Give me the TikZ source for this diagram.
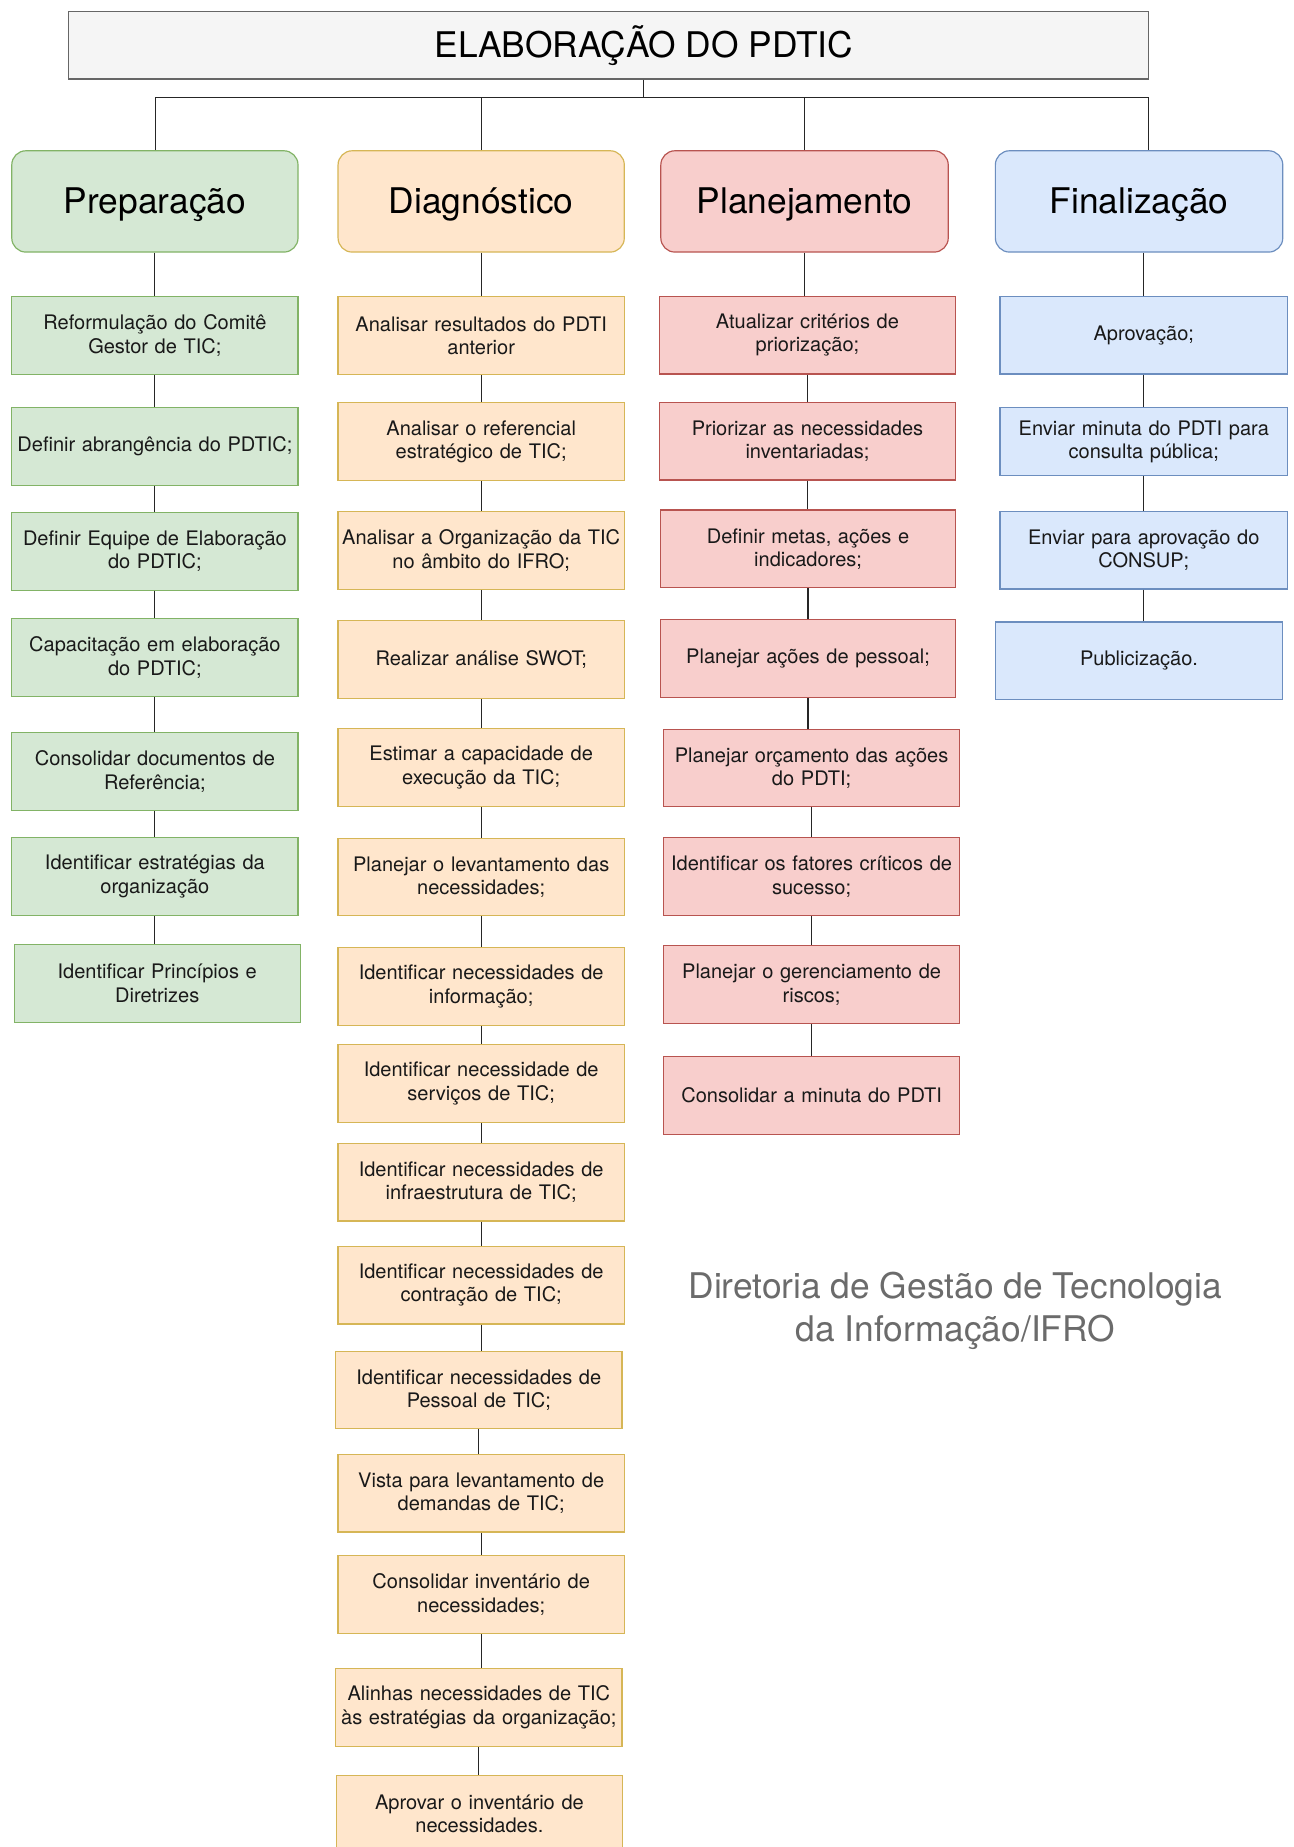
\documentclass[tikz,border=0pt]{standalone}
\usepackage{fontspec}
\setmainfont{TeX Gyre Heros}
\usepackage{xcolor}
\usetikzlibrary{calc}

\definecolor{verdeF}{HTML}{D5E8D4}
\definecolor{verdeB}{HTML}{82B366}
\definecolor{laranjaF}{HTML}{FFE6CC}
\definecolor{laranjaB}{HTML}{D6B656}
\definecolor{vermelhoF}{HTML}{F8CECC}
\definecolor{vermelhoB}{HTML}{B85450}
\definecolor{azulF}{HTML}{DAE8FC}
\definecolor{azulB}{HTML}{6C8EBF}
\definecolor{cinzaF}{HTML}{F5F5F5}
\definecolor{cinzaB}{HTML}{666666}
\definecolor{rodape}{HTML}{6B6B6B}

\begin{document}
\begin{tikzpicture}
[x = 1pt, y = -1pt,
 caixa/.style = {draw, line width = 1pt, text width = 235pt, inner xsep = 4pt,
   minimum height = 66pt, align = center, text = black!90,
   font = \fontsize{17}{20}\selectfont},
 prep/.style = {caixa, fill = verdeF, draw = verdeB},
 diag/.style = {caixa, fill = laranjaF, draw = laranjaB},
 plan/.style = {caixa, fill = vermelhoF, draw = vermelhoB, text width = 243pt},
 fin/.style = {caixa, fill = azulF, draw = azulB, text width = 236pt},
 fase/.style = {draw, line width = 1pt, rounded corners = 12pt,
   minimum width = 243pt, minimum height = 86pt,
   text height = 22pt, text depth = 1pt,
   font = \fontsize{30}{36}\selectfont},
 ligacao/.style = {line width = 1pt, draw = black!85}]

\useasboundingbox (0,0) rectangle (1098,1568);
\clip (0,0) rectangle (1098,1568);
\fill[white] (0,0) rectangle (1098,1568);

% titulo
\node (T)
[draw = cinzaB, fill = cinzaF, line width = 1pt,
 minimum width = 917pt, minimum height = 57pt, inner sep = 0pt]
at (516.5,38.5) {};
\node (Tt) [font = \fontsize{30}{36}\selectfont] at (546.5,38.5) {ELABORAÇÃO DO PDTIC};

% fases
\node (HP) [fase, fill = verdeF, draw = verdeB] at (131.5,171) {Preparação};
\node (HD) [fase, fill = laranjaF, draw = laranjaB] at (408.5,171) {Diagnóstico};
\node (HL) [fase, fill = vermelhoF, draw = vermelhoB, minimum width = 244pt] at (683,171) {Planejamento};
\node (HF) [fase, fill = azulF, draw = azulB, minimum width = 244pt] at (967,171) {Finalização};

\coordinate (stem) at (546,83);
\coordinate (busL) at (132,83);
\coordinate (busR) at (975,83);

\draw[ligacao] (T.south -| stem) -- (stem);
\draw[ligacao] (HP.north -| busL) -- (busL) -- (busR) -- (HF.north -| busR);
\draw[ligacao] (HD.north) -- (HD.north |- busL);
\draw[ligacao] (HL.north) -- (HL.north |- busL);

% preparacao
\node (P1) [prep] at (131.5,285) {Reformulação do Comitê\\Gestor de TIC;};
\node (P2) [prep] at (131.5,379) {Definir abrangência do PDTIC;};
\node (P3) [prep] at (131.5,468) {Definir Equipe de Elaboração\\do PDTIC;};
\node (P4) [prep] at (131.5,558) {Capacitação em elaboração\\do PDTIC;};
\node (P5) [prep] at (131.5,655) {Consolidar documentos de\\Referência;};
\node (P6) [prep] at (131.5,744) {Identificar estratégias da\\organização};
\node (P7) [prep] at (133.5,835) {Identificar Princípios e\\Diretrizes};

% diagnostico
\node (D1) [diag] at (408.5,285) {Analisar resultados do PDTI\\anterior};
\node (D2) [diag] at (408.5,375) {Analisar o referencial\\estratégico de TIC;};
\node (D3) [diag, text width = 241pt, inner xsep = 1pt] at (408.5,467.5) {Analisar a Organização da TIC\\no âmbito do IFRO;};
\node (D4) [diag] at (408.5,560) {Realizar análise SWOT;};
\node (D5) [diag] at (408.5,651.5) {Estimar a capacidade de\\execução da TIC;};
\node (D6) [diag] at (408.5,744.5) {Planejar o levantamento das\\necessidades;};
\node (D7) [diag] at (408.5,837.5) {Identificar necessidades de\\informação;};
\node (D8) [diag] at (408.5,920) {Identificar necessidade de\\serviços de TIC;};
\node (D9) [diag] at (408.5,1003.5) {Identificar necessidades de\\infraestrutura de TIC;};
\node (D10) [diag] at (408.5,1091) {Identificar necessidades de\\contração de TIC;};
\node (D11) [diag] at (406.5,1180) {Identificar necessidades de\\Pessoal de TIC;};
\node (D12) [diag] at (408.5,1267.5) {Vista para levantamento de\\demandas de TIC;};
\node (D13) [diag] at (408.5,1353.5) {Consolidar inventário de\\necessidades;};
\node (D14) [diag, text width = 241pt, inner xsep = 1pt] at (406.5,1449.5) {Alinhas necessidades de TIC\\às estratégias da organização;};
\node (D15) [diag] at (407,1540) {Aprovar o inventário de\\necessidades.};

% planejamento
\node (L1) [plan] at (685.5,284.5) {Atualizar critérios de\\priorização;};
\node (L2) [plan] at (685.5,374.5) {Priorizar as necessidades\\inventariadas;};
\node (L3) [plan] at (686,466) {Definir metas, ações e\\indicadores;};
\node (L4) [plan] at (686,559) {Planejar ações de pessoal;};
\node (L5) [plan] at (689,652) {Planejar orçamento das ações\\do PDTI;};
\node (L6) [plan] at (689,744) {Identificar os fatores críticos de\\sucesso;};
\node (L7) [plan] at (689,836) {Planejar o gerenciamento de\\riscos;};
\node (L8) [plan] at (689,930) {Consolidar a minuta do PDTI};

% finalizacao
\node (F1) [fin] at (971,284.5) {Aprovação;};
\node (F2) [fin, minimum height = 58pt] at (971,375) {Enviar minuta do PDTI para\\consulta pública;};
\node (F3) [fin] at (971,467) {Enviar para aprovação do\\CONSUP;};
\node (F4) [fin] at (967,561) {Publicização.};

\foreach \a/\b in {HP/P1,P1/P2,P2/P3,P3/P4,P4/P5,P5/P6,P6/P7,
  HD/D1,D1/D2,D2/D3,D3/D4,D4/D5,D5/D6,D6/D7,D7/D8,D8/D9,D9/D10,
  D10/D11,D11/D12,D12/D13,D13/D14,D14/D15,
  HL/L1,L1/L2,L2/L3,L3/L4,L4/L5,L5/L6,L6/L7,L7/L8,
  F1/F2,F2/F3,F3/F4}
  \draw[ligacao] (\a.south) -- (\a.south |- \b.north);
\draw[ligacao] (HF.south -| F1.north) -- (F1.north);

% rodape
\node (R) [align = center, text = rodape, font = \fontsize{30}{36}\selectfont]
at (811,1113) {Diretoria de Gestão de Tecnologia\\da Informação/IFRO};

\end{tikzpicture}
\end{document}
